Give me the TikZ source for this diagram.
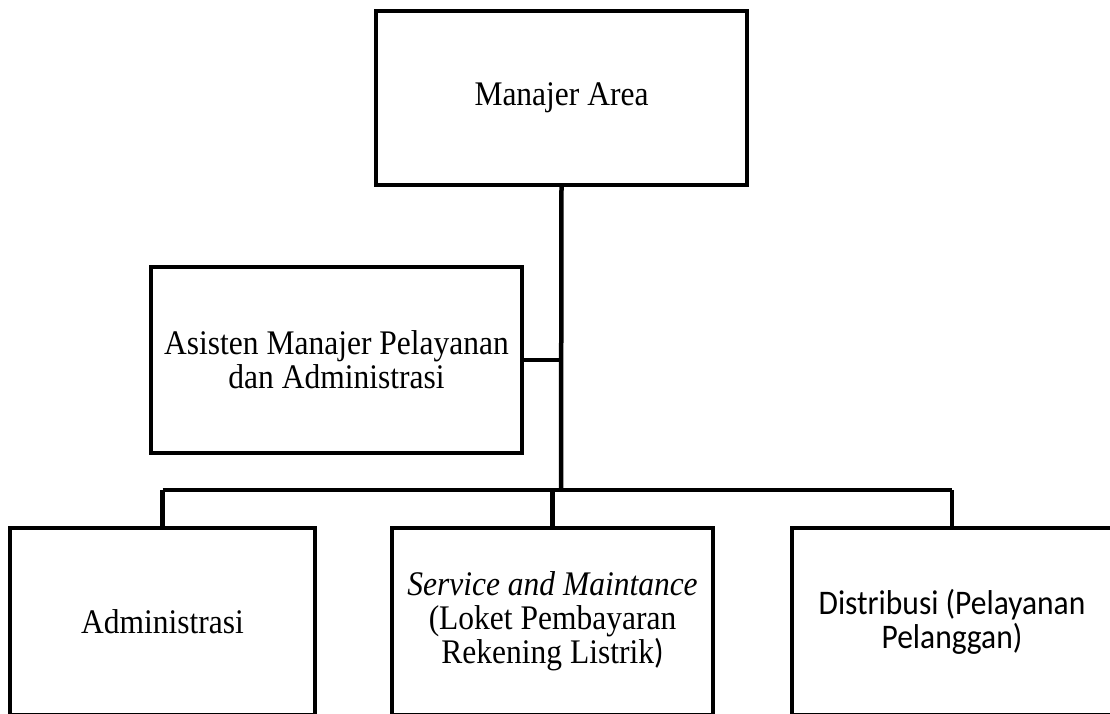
\documentclass[tikz,border=0pt]{standalone}
\usepackage{fontspec}
\setmainfont{Liberation Serif}[FakeStretch=0.913]
\newfontfamily\calibri{Carlito}[FakeStretch=0.913]
\usetikzlibrary{positioning}

\tikzset{
  unit/.style={draw, line width=4.5pt, outer sep=0pt, inner sep=0pt,
    align=center, font=\fontsize{34.5}{34}\selectfont},
  link/.style={line width=4.5pt}
}

\begin{document}
\begin{tikzpicture}[x=1pt, y=-1pt]
\useasboundingbox (0,0) rectangle (1110,713);

\node (MA) [unit, minimum width=371pt, minimum height=174pt] at (561.5,98) {Manajer Area};
\node (AS) [unit, minimum width=371pt, minimum height=186pt] at (336.5,360)
  {Asisten Manajer Pelayanan\\dan Administrasi};

\node (SM) [unit, minimum width=321pt, minimum height=187pt] at (552.5,621.5)
  {\textit{Service and Maintance}\\(Loket Pembayaran\\Rekening Listrik{\calibri )}};
\node (AD) [unit, minimum width=305pt, minimum height=187pt, left=77pt of SM] {Administrasi};
\node (DP) [unit, minimum width=320pt, minimum height=187pt, right=79pt of SM]
  {\calibri Distribusi (Pelayanan\\\calibri Pelanggan)};

\coordinate (J) at (561,490);

\draw [link] (MA.south) -- (J);
\draw [link] (AS.east) -- (AS.east -| MA.south);
\draw [link] (AD.north |- J) -- (DP.north |- J);
\draw [link] (AD.north |- J) -- (AD.north);
\draw [link] (SM.north |- J) -- (SM.north);
\draw [link] (DP.north |- J) -- (DP.north);
\end{tikzpicture}
\end{document}
